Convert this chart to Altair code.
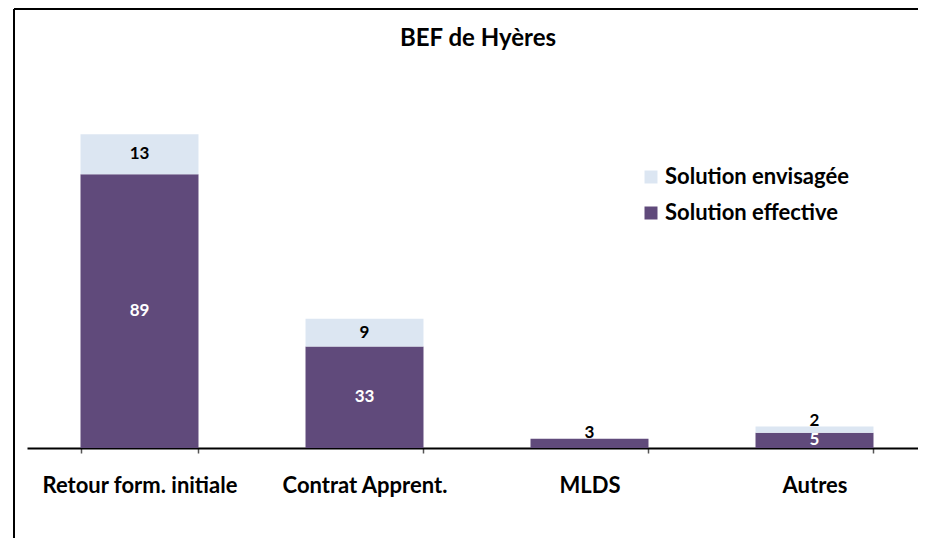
import altair as alt
import pandas as pd

title_text = "BEF de Hyères"
categories = ["Retour form. initiale", "Contrat Apprent.", "MLDS", "Autres"]
effective = [89, 33, 3, 5]
envisagee = [13, 9, 0, 2]
series_names = ["Solution envisagée", "Solution effective"]
colors = ["#DCE6F2", "#604A7B"]

rows = []
for c, e, v in zip(categories, effective, envisagee):
    rows.append({"cat": c, "serie": "Solution effective", "val": e, "y0": 0, "y1": e})
    rows.append({"cat": c, "serie": "Solution envisagée", "val": v, "y0": e, "y1": e + v})
df = pd.DataFrame(rows)

# label positions: centre of segment, or just above the top for thin segments
def lab_pos(r):
    if r["val"] <= 3:
        return r["y1"] + 1.8
    return (r["y0"] + r["y1"]) / 2

df["ly"] = df.apply(lab_pos, axis=1)
df["lcol"] = df.apply(lambda r: "white" if (r["serie"] == "Solution effective" and r["val"] > 3) else "black", axis=1)
lab = df[df["val"] > 0]

FONT = "Lato"

x = alt.X("cat:N", sort=categories, title=None,
          scale=alt.Scale(paddingInner=0.4756, paddingOuter=0.2378, range=[0, 900]),
          axis=alt.Axis(tickBand="extent", domainColor="black", domainWidth=2,
                        tickColor="#555555", tickSize=5, tickWidth=1.5,
                        labelAngle=0, labelFont=FONT, labelFontWeight="bold",
                        labelFontSize=22, labelColor="black", labelPadding=39,
                        labelBaseline="alphabetic", labelLimit=0,
                        grid=False))
yscale = alt.Scale(domain=[0, 120])

bars = alt.Chart(df).mark_bar().encode(
    x=x,
    y=alt.Y("y0:Q", scale=yscale, axis=None),
    y2="y1:Q",
    color=alt.Color("serie:N", scale=alt.Scale(domain=series_names, range=colors),
                    legend=alt.Legend(title=None, orient="none", legendX=613, legendY=87,
                                      symbolType="square", symbolSize=169,
                                      symbolStrokeWidth=0, labelLimit=0,
                                      labelFont=FONT, labelFontWeight="bold",
                                      labelFontSize=22, labelColor="black",
                                      rowPadding=14, padding=0, labelOffset=3)),
)

labels = alt.Chart(lab).mark_text(font=FONT, fontWeight="bold", fontSize=17, baseline="middle").encode(
    x=alt.X("cat:N", sort=categories),
    y=alt.Y("ly:Q", scale=yscale),
    text="val:Q",
    color=alt.Color("lcol:N", scale=None),
)

one = pd.DataFrame({"a": [0]})
top_line = alt.Chart(one).mark_rule(color="black", strokeWidth=2).encode(
    x=alt.value(-13), x2=alt.value(891), y=alt.value(-70)
)
left_line = alt.Chart(one).mark_rule(color="black", strokeWidth=2).encode(
    x=alt.value(-13), y=alt.value(-70), y2=alt.value(459)
)
title = alt.Chart(pd.DataFrame({"t": [title_text]})).mark_text(
    font=FONT, fontSize=24, fontWeight="bold", color="black", baseline="alphabetic"
).encode(x=alt.value(451), y=alt.value(-33), text="t:N")

chart = alt.layer(top_line, left_line, title, bars, labels).properties(
    width=891, height=369,
    padding={"left": 19, "top": 71, "right": 0, "bottom": 90},
    autosize=alt.AutoSizeParams(type="none"),
).configure_view(stroke=None).configure_axis(domainCap="butt")

chart.save("out.html", embed_options={"renderer": "svg", "actions": False})
